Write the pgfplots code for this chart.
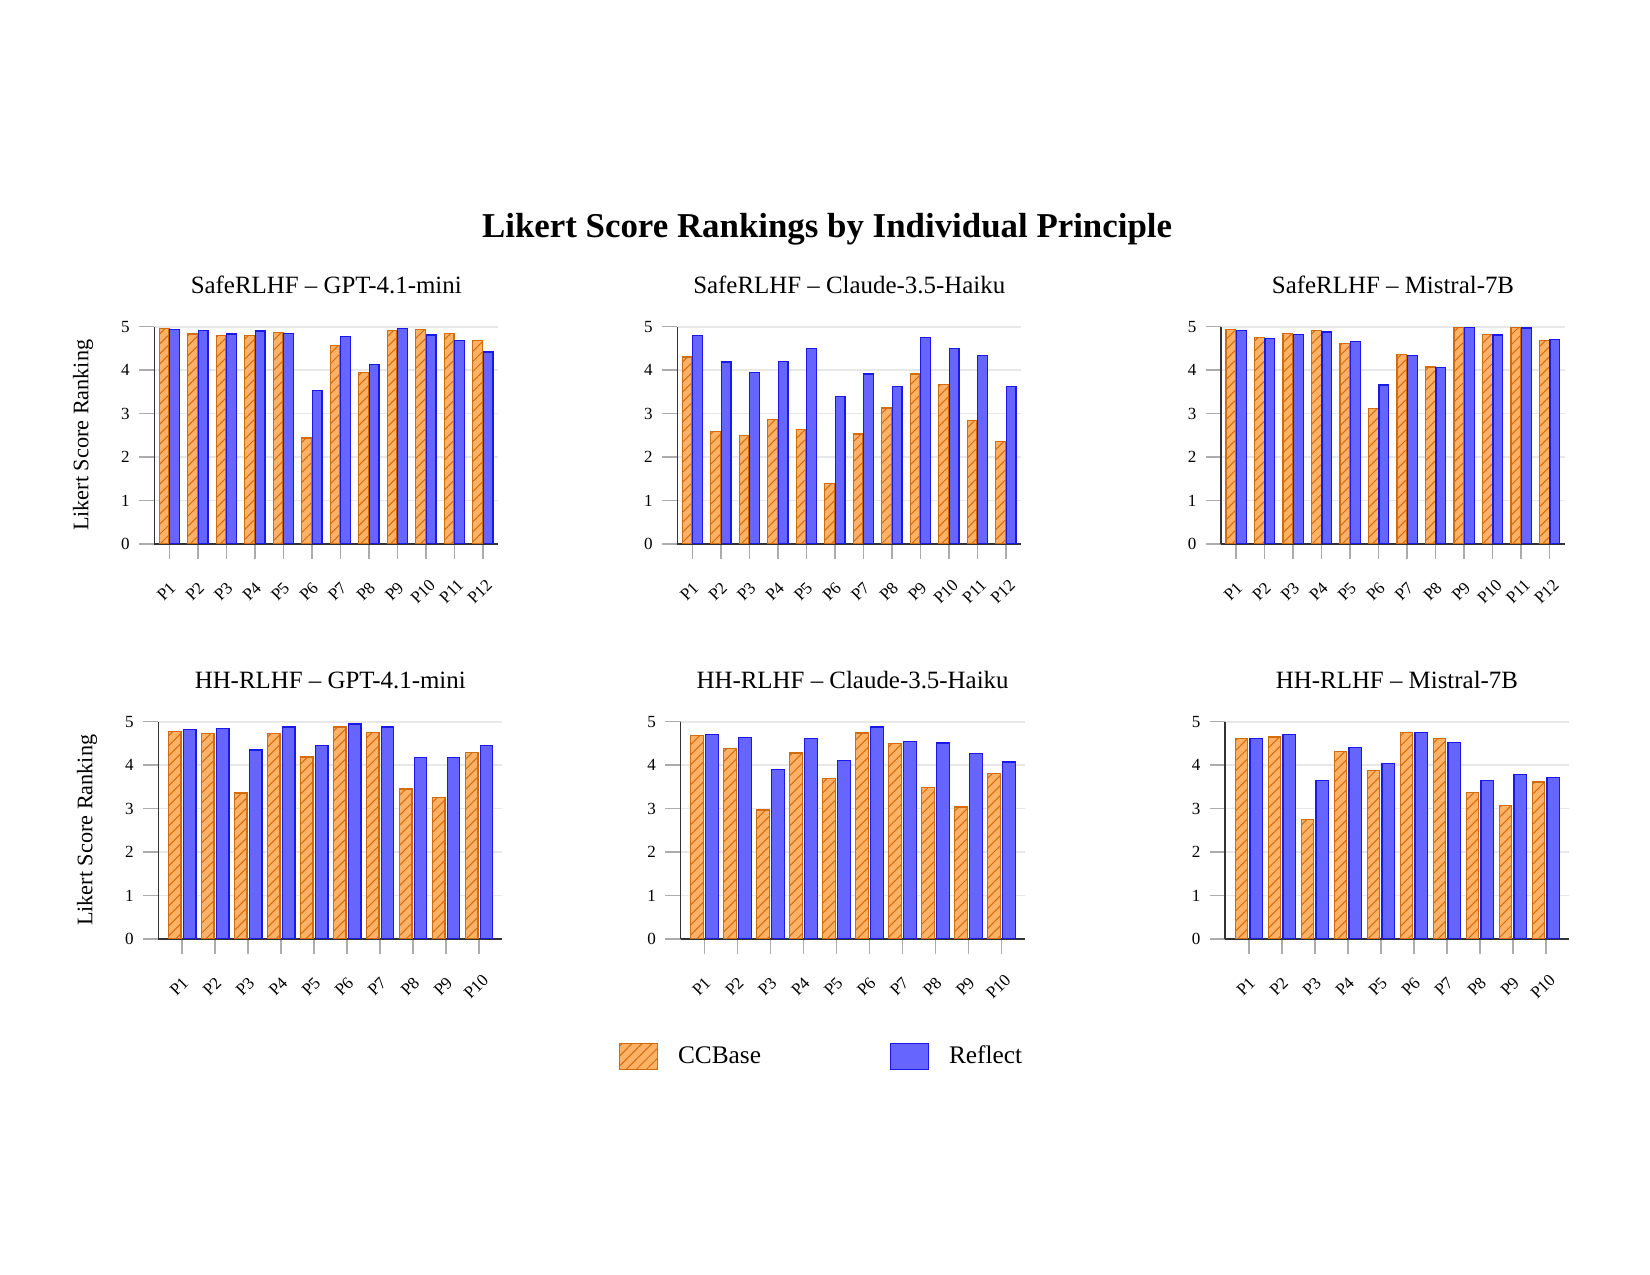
\documentclass[border=0pt]{standalone}
\usepackage{pgfplots}
\pgfplotsset{compat=1.18}
\usepackage{pgfplotstable}
\usetikzlibrary{patterns.meta}
\usepackage{fontspec}
\setmainfont{Liberation Serif}

\definecolor{ccfill}{RGB}{255,178,102}
\definecolor{ccedge}{RGB}{210,108,12}
\definecolor{rffill}{RGB}{102,102,255}
\definecolor{rfedge}{RGB}{25,25,232}

% SafeRLHF - GPT-4.1-mini
\pgfplotstableread{
x cc rf
1 4.96 4.93
2 4.83 4.92
3 4.79 4.83
4 4.79 4.90
5 4.86 4.85
6 2.44 3.54
7 4.57 4.78
8 3.94 4.13
9 4.91 4.96
10 4.94 4.81
11 4.85 4.69
12 4.69 4.42
}\tabA
% SafeRLHF - Claude-3.5-Haiku
\pgfplotstableread{
x cc rf
1 4.30 4.80
2 2.59 4.19
3 2.50 3.94
4 2.86 4.20
5 2.64 4.49
6 1.40 3.40
7 2.53 3.91
8 3.13 3.62
9 3.91 4.75
10 3.67 4.49
11 2.85 4.33
12 2.36 3.62
}\tabB
% SafeRLHF - Mistral-7B
\pgfplotstableread{
x cc rf
1 4.94 4.91
2 4.75 4.72
3 4.85 4.82
4 4.91 4.88
5 4.61 4.66
6 3.11 3.66
7 4.36 4.33
8 4.07 4.06
9 4.98 4.98
10 4.82 4.81
11 4.98 4.97
12 4.69 4.70
}\tabC
% HH-RLHF - GPT-4.1-mini
\pgfplotstableread{
x cc rf
1 4.78 4.82
2 4.72 4.85
3 3.36 4.35
4 4.72 4.88
5 4.19 4.45
6 4.88 4.95
7 4.76 4.88
8 3.45 4.18
9 3.25 4.18
10 4.29 4.45
}\tabD
% HH-RLHF - Claude-3.5-Haiku
\pgfplotstableread{
x cc rf
1 4.69 4.71
2 4.39 4.64
3 2.97 3.90
4 4.28 4.62
5 3.70 4.11
6 4.74 4.88
7 4.49 4.55
8 3.48 4.51
9 3.04 4.26
10 3.80 4.07
}\tabE
% HH-RLHF - Mistral-7B
\pgfplotstableread{
x cc rf
1 4.62 4.61
2 4.65 4.71
3 2.75 3.64
4 4.32 4.40
5 3.87 4.03
6 4.75 4.75
7 4.61 4.53
8 3.37 3.65
9 3.07 3.79
10 3.61 3.72
}\tabF

\pgfplotsset{
  ccstyle/.style={fill=ccfill, draw=ccedge, line width=0.6bp,
    postaction={pattern={Lines[angle=45,distance=3.4bp,line width=0.5bp]}, pattern color=ccedge}},
  rfstyle/.style={fill=rffill, draw=rfedge, line width=0.6bp},
  panel/.style={
    scale only axis, width=165.1bp, height=104.3bp, anchor=south west,
    ybar,
    ymin=0, ymax=5, ytick={0,1,2,3,4,5},
    axis x line*=bottom, axis y line*=left,
    axis line style={black!80, line width=0.7bp, -},
    ymajorgrids, grid style={gray!18, line width=0.8bp},
    tick align=outside, major tick length=7.3bp,
    tick style={gray!65, line width=0.7bp},
    xtick=data,
    /pgf/number format/assume math mode=true,
    ticklabel style={font=\fontsize{8.2}{9}\selectfont},
    yticklabel style={xshift=-1bp},
    xticklabel style={anchor=center, yshift=-15.5bp, xshift=-1.5bp, rotate=45},
    every axis title/.style={at={(0.5,1)}, anchor=base, yshift=16bp,
      font=\fontsize{12}{14}\selectfont},
    every axis y label/.style={at={(axis description cs:-0.207,0.5)}, rotate=90,
      anchor=center, font=\fontsize{10.7}{12}\selectfont},
    legend image code/.code={\draw[#1,/tikz/.cd] (0bp,-6.2bp) rectangle (18.2bp,6.2bp);},
  },
  toppanel/.style={panel, xmin=0.47, xmax=12.54, bar width=0.34,
    xticklabels={P1,P2,P3,P4,P5,P6,P7,P8,P9,P10,P11,P12}},
  botpanel/.style={panel, xmin=0.275, xmax=10.70, bar width=0.38,
    xticklabels={P1,P2,P3,P4,P5,P6,P7,P8,P9,P10}},
}

\begin{document}
\begin{tikzpicture}
\path[use as bounding box] (0,0) rectangle (792bp,612bp);

\node[anchor=base, font=\bfseries\fontsize{16.8}{19}\selectfont] at (397bp,497.9bp)
  {Likert Score Rankings by Individual Principle};

% top row
\begin{axis}[toppanel, at={(74.06bp,350.88bp)}, title={SafeRLHF -- GPT-4.1-mini}, ylabel={Likert Score Ranking}]
\addplot[ccstyle, bar shift=-0.185] table[x=x,y=cc]{\tabA};
\addplot[rfstyle, bar shift=0.185] table[x=x,y=rf]{\tabA};
\end{axis}
\begin{axis}[toppanel, at={(325.1bp,350.88bp)}, title={SafeRLHF -- Claude-3.5-Haiku}]
\addplot[ccstyle, bar shift=-0.185] table[x=x,y=cc]{\tabB};
\addplot[rfstyle, bar shift=0.185] table[x=x,y=rf]{\tabB};
\end{axis}
\begin{axis}[toppanel, at={(586.1bp,350.88bp)}, title={SafeRLHF -- Mistral-7B}]
\addplot[ccstyle, bar shift=-0.185] table[x=x,y=cc]{\tabC};
\addplot[rfstyle, bar shift=0.185] table[x=x,y=rf]{\tabC};
\end{axis}

% bottom row
\begin{axis}[botpanel, at={(75.98bp,161.28bp)}, title={HH-RLHF -- GPT-4.1-mini}, ylabel={Likert Score Ranking}]
\addplot[ccstyle, bar shift=-0.225] table[x=x,y=cc]{\tabD};
\addplot[rfstyle, bar shift=0.225] table[x=x,y=rf]{\tabD};
\end{axis}
\begin{axis}[botpanel, at={(326.7bp,161.28bp)}, title={HH-RLHF -- Claude-3.5-Haiku},
  legend columns=2,
  legend style={draw=none, fill=none, inner sep=0pt, outer sep=0pt,
    at={(axis description cs:-0.179,-0.54)}, anchor=west,
    font=\fontsize{12.2}{14}\selectfont,
    /tikz/every even column/.append style={column sep=60bp},
    /tikz/every odd column/.append style={column sep=7.5bp}},
  legend cell align=left]
\addplot[ccstyle, bar shift=-0.225] table[x=x,y=cc]{\tabE};
\addlegendentry{CCBase}
\addplot[rfstyle, bar shift=0.225] table[x=x,y=rf]{\tabE};
\addlegendentry{Reflect}
\end{axis}
\begin{axis}[botpanel, at={(588.0bp,161.28bp)}, title={HH-RLHF -- Mistral-7B}]
\addplot[ccstyle, bar shift=-0.225] table[x=x,y=cc]{\tabF};
\addplot[rfstyle, bar shift=0.225] table[x=x,y=rf]{\tabF};
\end{axis}
\end{tikzpicture}
\end{document}
